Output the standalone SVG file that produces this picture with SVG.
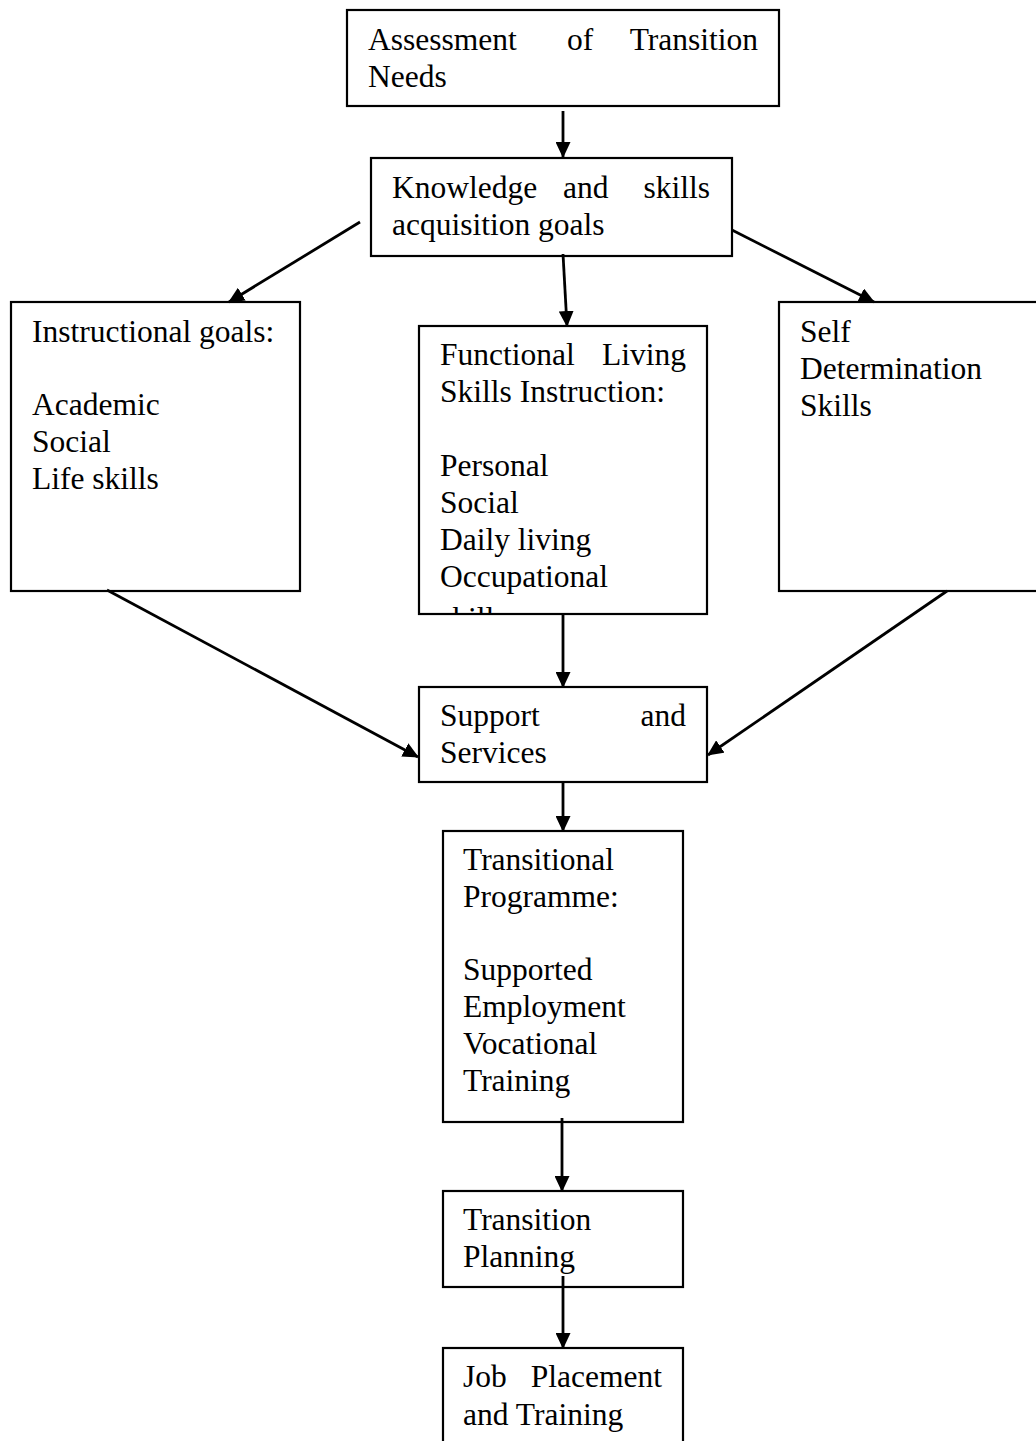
<svg xmlns="http://www.w3.org/2000/svg" width="1036" height="1441" viewBox="0 0 1036 1441">
  <style>
    .box { fill: #ffffff; stroke: #000000; stroke-width: 2.2; }
    .lbl { font-family: "Liberation Serif", "Times New Roman", serif; font-size: 31.5px; fill: #000000; }
    .end { text-anchor: end; }
    .conn { stroke: #000000; stroke-width: 2.8; fill: none; marker-end: url(#arrow); }
  </style>
  <defs>
    <marker id="arrow" viewBox="0 0 16 15" refX="15" refY="7.5" markerWidth="16" markerHeight="15" markerUnits="userSpaceOnUse" orient="auto">
      <path d="M0,0 L16,7.5 L0,15 z" fill="#000000"/>
    </marker>
    <clipPath id="clip-functional">
      <rect x="419" y="326" width="288" height="287"/>
    </clipPath>
  </defs>
  <rect width="1036" height="1441" fill="#ffffff"/>

  <g id="node-assessment">
    <rect class="box" x="347" y="10" width="432" height="96"/>
    <text class="lbl" x="368" y="50">Assessment</text>
    <text class="lbl" x="567" y="50">of</text>
    <text class="lbl end" x="758" y="50">Transition</text>
    <text class="lbl" x="368" y="87">Needs</text>
  </g>

  <g id="node-knowledge">
    <rect class="box" x="371" y="158" width="361" height="98"/>
    <text class="lbl" x="392" y="198">Knowledge</text>
    <text class="lbl" x="563" y="198">and</text>
    <text class="lbl end" x="710" y="198">skills</text>
    <text class="lbl" x="392" y="235">acquisition goals</text>
  </g>

  <g id="node-instructional">
    <rect class="box" x="11" y="302" width="289" height="289"/>
    <text class="lbl" x="32" y="342">Instructional goals:</text>
    <text class="lbl" x="32" y="415">Academic</text>
    <text class="lbl" x="32" y="452">Social</text>
    <text class="lbl" x="32" y="489">Life skills</text>
  </g>

  <g id="node-functional">
    <rect class="box" x="419" y="326" width="288" height="288"/>
    <g clip-path="url(#clip-functional)">
      <text class="lbl" x="440" y="365">Functional</text>
      <text class="lbl end" x="686" y="365">Living</text>
      <text class="lbl" x="440" y="402">Skills Instruction:</text>
      <text class="lbl" x="440" y="476">Personal</text>
      <text class="lbl" x="440" y="513">Social</text>
      <text class="lbl" x="440" y="550">Daily living</text>
      <text class="lbl" x="440" y="587">Occupational</text>
      <text class="lbl" x="440" y="629">skills</text>
    </g>
  </g>

  <g id="node-self-determination">
    <rect class="box" x="779" y="302" width="270" height="289"/>
    <text class="lbl" x="800" y="342">Self</text>
    <text class="lbl" x="800" y="379">Determination</text>
    <text class="lbl" x="800" y="416">Skills</text>
  </g>

  <g id="node-support">
    <rect class="box" x="419" y="687" width="288" height="95"/>
    <text class="lbl" x="440" y="726">Support</text>
    <text class="lbl end" x="686" y="726">and</text>
    <text class="lbl" x="440" y="763">Services</text>
  </g>

  <g id="node-transitional">
    <rect class="box" x="443" y="831" width="240" height="291"/>
    <text class="lbl" x="463" y="870">Transitional</text>
    <text class="lbl" x="463" y="907">Programme:</text>
    <text class="lbl" x="463" y="980">Supported</text>
    <text class="lbl" x="463" y="1017">Employment</text>
    <text class="lbl" x="463" y="1054">Vocational</text>
    <text class="lbl" x="463" y="1091">Training</text>
  </g>

  <g id="node-planning">
    <rect class="box" x="443" y="1191" width="240" height="96"/>
    <text class="lbl" x="463" y="1230">Transition</text>
    <text class="lbl" x="463" y="1267">Planning</text>
  </g>

  <g id="node-placement">
    <rect class="box" x="443" y="1348" width="240" height="110"/>
    <text class="lbl" x="463" y="1387">Job</text>
    <text class="lbl end" x="662" y="1387">Placement</text>
    <text class="lbl" x="463" y="1425">and Training</text>
  </g>

  <g id="connectors">
    <line class="conn" x1="563" y1="111" x2="563" y2="157"/>
    <line class="conn" x1="360" y1="222" x2="229" y2="302"/>
    <line class="conn" x1="563" y1="254" x2="567" y2="326"/>
    <line class="conn" x1="732" y1="230" x2="874" y2="302"/>
    <line class="conn" x1="107" y1="590" x2="418" y2="757"/>
    <line class="conn" x1="563" y1="614" x2="563" y2="687"/>
    <line class="conn" x1="947" y1="591" x2="708" y2="755"/>
    <line class="conn" x1="563" y1="782" x2="563" y2="831"/>
    <line class="conn" x1="562" y1="1118" x2="562" y2="1191"/>
    <line class="conn" x1="563" y1="1276" x2="563" y2="1348"/>
  </g>
</svg>
